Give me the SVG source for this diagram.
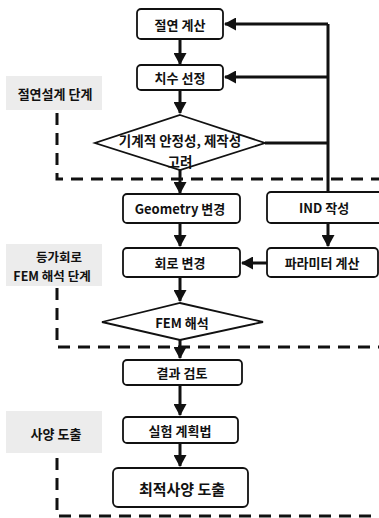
<svg xmlns="http://www.w3.org/2000/svg" width="379" height="518" viewBox="0 0 379 518">
<style>
.box{fill:#fff;stroke:#111;stroke-width:1.8}
.dia{fill:#fff;stroke:#111;stroke-width:1.8}
.t{font-family:"Noto Sans CJK KR","Liberation Sans",sans-serif;font-weight:bold;font-size:13px;fill:#111;text-anchor:middle;dominant-baseline:central}
.lab{fill:#ececec}
.dash{fill:none;stroke:#111;stroke-width:3;stroke-dasharray:12 8}
.con{fill:none;stroke:#111;stroke-width:3}
</style>
<defs>
<marker id="ah" markerUnits="userSpaceOnUse" markerWidth="13" markerHeight="13" refX="11" refY="6.5" orient="auto">
<path d="M0,0 L12,6.5 L0,13 Z" fill="#111"/>
</marker>
</defs>
<g id="stage1"><rect class="lab" x="6" y="76" width="96" height="34"/><text class="t" x="55" y="93">절연설계 단계</text></g>
<g id="stage2"><rect class="lab" x="6" y="244" width="96" height="42"/><text class="t" x="59" y="256" style="font-size:12.5px">등가회로</text><text class="t" x="52" y="275" style="font-size:12.5px">FEM 해석 단계</text></g>
<g id="stage3"><rect class="lab" x="6" y="411" width="96" height="42"/><text class="t" x="56" y="433">사양 도출</text></g>
<g id="boundaries">
<path class="dash" d="M57,113 V179 H379"/>
<path class="dash" d="M57,288 V347 H379"/>
<path class="dash" d="M57,458 V516 H379"/>
</g>
<g id="connectors">
<path class="con" d="M180,39 V64" marker-end="url(#ah)"/>
<path class="con" d="M180,90 V113" marker-end="url(#ah)"/>
<path class="con" d="M180,169 V193" marker-end="url(#ah)"/>
<path class="con" d="M265,143 H328 M328,24 V192"/>
<path class="con" d="M328,24 H225" marker-end="url(#ah)"/>
<path class="con" d="M328,77 H225" marker-end="url(#ah)"/>
<path class="con" d="M180,223 V246" marker-end="url(#ah)"/>
<path class="con" d="M328,223 V246" marker-end="url(#ah)"/>
<path class="con" d="M267,263 H242" marker-end="url(#ah)"/>
<path class="con" d="M180,277 V301" marker-end="url(#ah)"/>
<path class="con" d="M180,340 V358" marker-end="url(#ah)"/>
<path class="con" d="M180,385 V415" marker-end="url(#ah)"/>
<path class="con" d="M180,443 V466" marker-end="url(#ah)"/>
</g>
<g id="n1"><rect class="box" x="137" y="9" width="86" height="30" rx="4"/><text class="t" x="180" y="24">절연 계산</text></g>
<g id="n2"><rect class="box" x="137" y="65" width="86" height="25" rx="4"/><text class="t" x="180" y="77.5">치수 선정</text></g>
<g id="n3"><polygon class="dia" points="180,115 265,143 180,170 95,143"/><text class="t" x="180" y="140" style="font-size:13.5px">기계적 안정성, 제작성</text><text class="t" x="180" y="161" style="font-size:13.5px">고려</text></g>
<g id="n4"><rect class="box" x="123" y="194" width="117" height="29" rx="4"/><text class="t" x="180" y="208.5">Geometry 변경</text></g>
<g id="n5"><rect class="box" x="267" y="192" width="116" height="31" rx="4"/><text class="t" x="324" y="207.5">IND 작성</text></g>
<g id="n6"><rect class="box" x="123" y="248" width="117" height="29" rx="4"/><text class="t" x="180" y="262.5">회로 변경</text></g>
<g id="n7"><rect class="box" x="267" y="248" width="111" height="29" rx="4"/><text class="t" x="322" y="262.5">파라미터 계산</text></g>
<g id="n8"><polygon class="dia" points="180,303 263,322 180,340 102,322"/><text class="t" x="182" y="322">FEM 해석</text></g>
<g id="n9"><rect class="box" x="123" y="360" width="119" height="25" rx="4"/><text class="t" x="182" y="372.5">결과 검토</text></g>
<g id="n10"><rect class="box" x="123" y="417" width="115" height="26" rx="4"/><text class="t" x="180" y="430">실험 계획법</text></g>
<g id="n11"><rect class="box" x="113" y="468" width="135" height="39" rx="5"/><text class="t" x="182" y="488" style="font-size:15px">최적사양 도출</text></g>
</svg>
